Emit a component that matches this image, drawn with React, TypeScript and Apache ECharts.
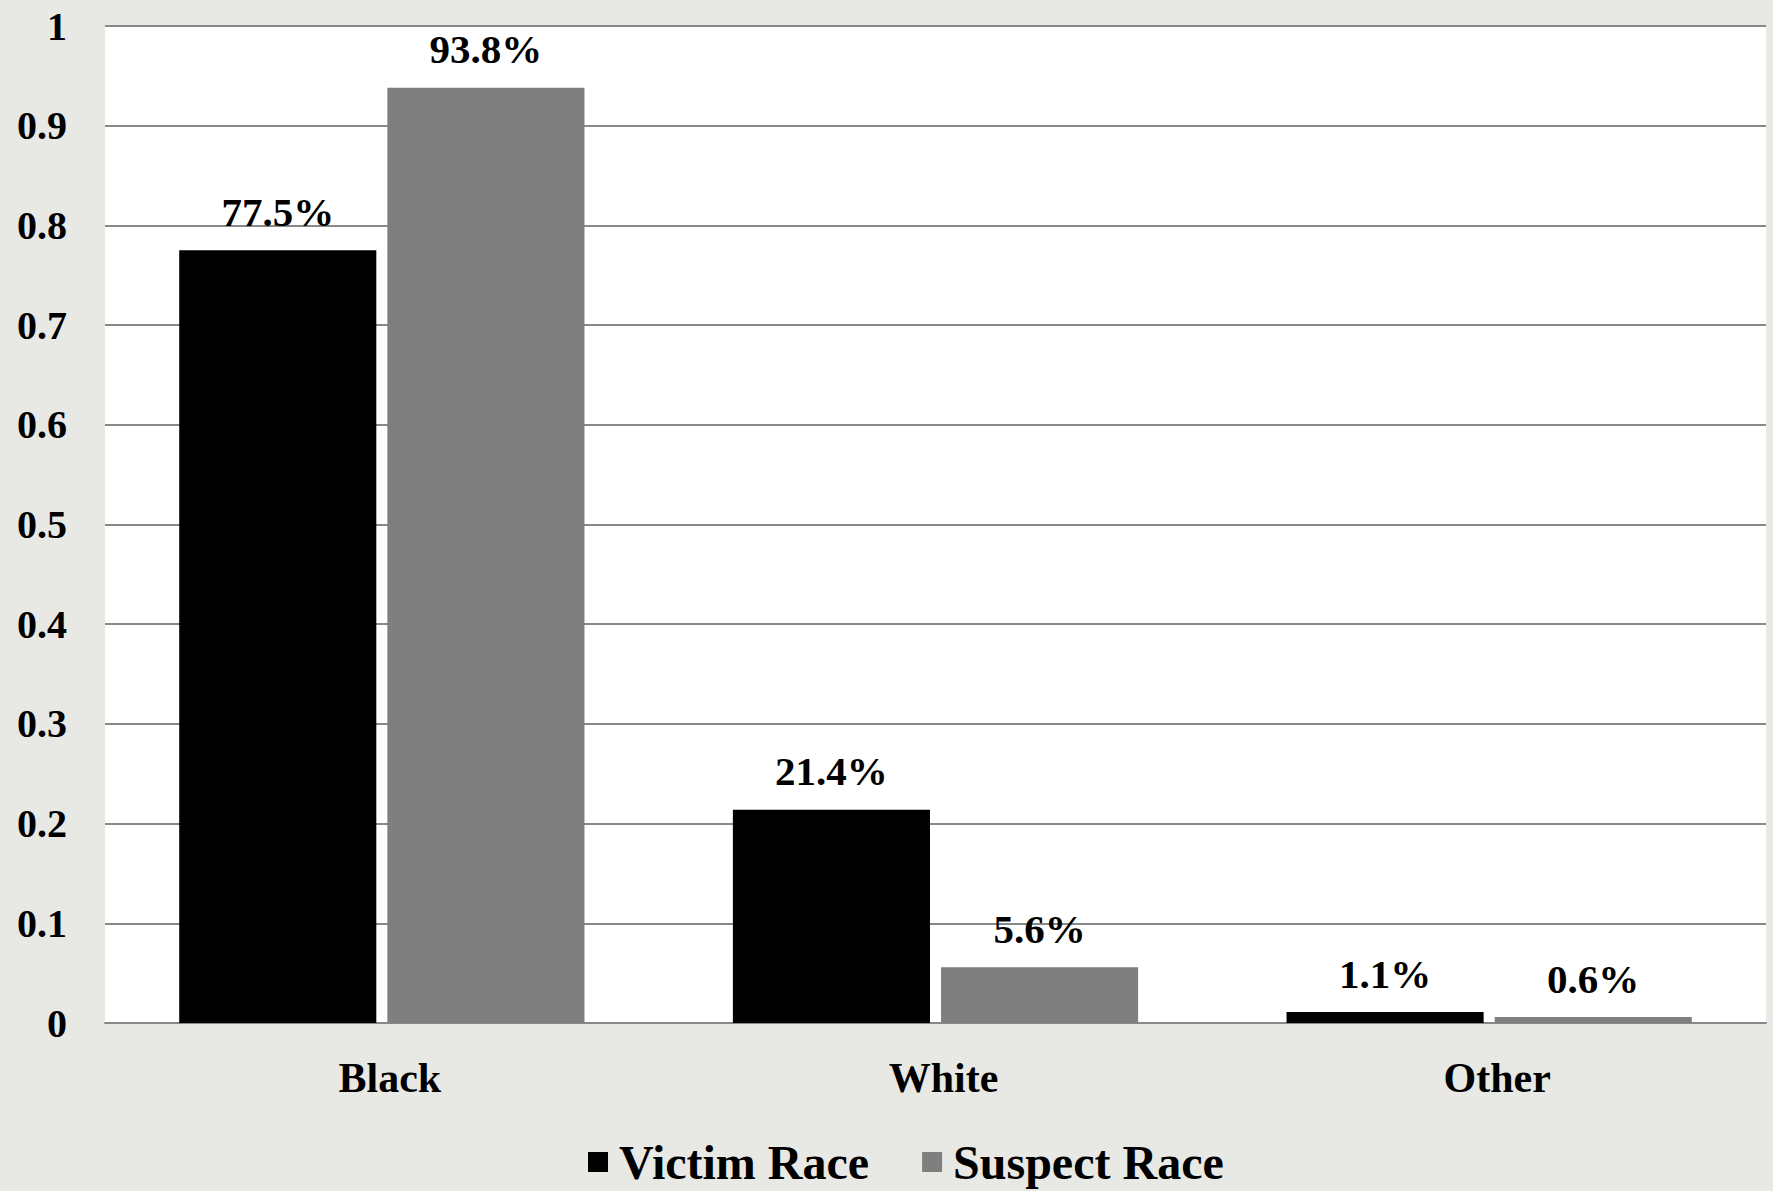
import React, { useEffect, useRef } from "react";
import * as echarts from "echarts";

const categories = ["Black", "White", "Other"];
const victimRace = [0.775, 0.214, 0.011];
const suspectRace = [0.938, 0.056, 0.006];
const victimLabels = ["77.5%", "21.4%", "1.1%"];
const suspectLabels = ["93.8%", "5.6%", "0.6%"];
const seriesNames = ["Victim Race", "Suspect Race"];

const FONT = "'Liberation Serif', 'Times New Roman', serif";

export default function App() {
  const ref = useRef<HTMLDivElement>(null);
  useEffect(() => {
    if (!ref.current) return;
    const chart = echarts.init(ref.current, undefined, { renderer: "svg" });
    const labelStyle = {
      show: true,
      position: "top",
      distance: 18,
      fontFamily: FONT,
      fontWeight: "bold",
      fontSize: 41,
      color: "#000",
    };
    chart.setOption({
      animation: false,
      backgroundColor: "#e8e8e5",
      grid: {
        left: 105,
        right: 7,
        top: 26,
        bottom: 168,
        show: true,
        backgroundColor: "#ffffff",
        borderWidth: 0,
      },
      legend: {
        data: seriesNames,
        left: 583,
        top: 1133,
        icon: "rect",
        itemWidth: 20,
        itemHeight: 20,
        itemGap: 53,
        textStyle: {
          fontFamily: FONT,
          fontWeight: "bold",
          fontSize: 48,
          lineHeight: 48,
          color: "#000",
          padding: [0, 0, 0, 6],
        },
      },
      xAxis: {
        type: "category",
        data: categories,
        axisLine: { show: true, lineStyle: { color: "#888888", width: 2 } },
        axisTick: { show: false },
        axisLabel: {
          margin: 34,
          fontFamily: FONT,
          fontWeight: "bold",
          fontSize: 42,
          color: "#000",
          padding: [0, 0, 0, 16],
        },
      },
      yAxis: {
        type: "value",
        min: 0,
        max: 1,
        interval: 0.1,
        axisLine: { show: false },
        axisTick: { show: false },
        splitLine: { show: true, lineStyle: { color: "#888888", width: 2 } },
        axisLabel: {
          margin: 38,
          fontFamily: FONT,
          fontWeight: "bold",
          fontSize: 40,
          color: "#000",
        },
      },
      series: [
        {
          name: seriesNames[0],
          type: "bar",
          data: victimRace,
          barWidth: "35.6%",
          barGap: "5.6%",
          itemStyle: { color: "#000000" },
          label: {
            ...labelStyle,
            formatter: (p: any) => victimLabels[p.dataIndex],
          },
        },
        {
          name: seriesNames[1],
          type: "bar",
          data: suspectRace,
          barWidth: "35.6%",
          itemStyle: { color: "#7f7f7f" },
          label: {
            ...labelStyle,
            formatter: (p: any) => suspectLabels[p.dataIndex],
          },
        },
      ],
    });
    return () => chart.dispose();
  }, []);
  return (
    <div
      ref={ref}
      style={{ position: "fixed", left: 0, top: 0, width: 1773, height: 1191 }}
    />
  );
}
